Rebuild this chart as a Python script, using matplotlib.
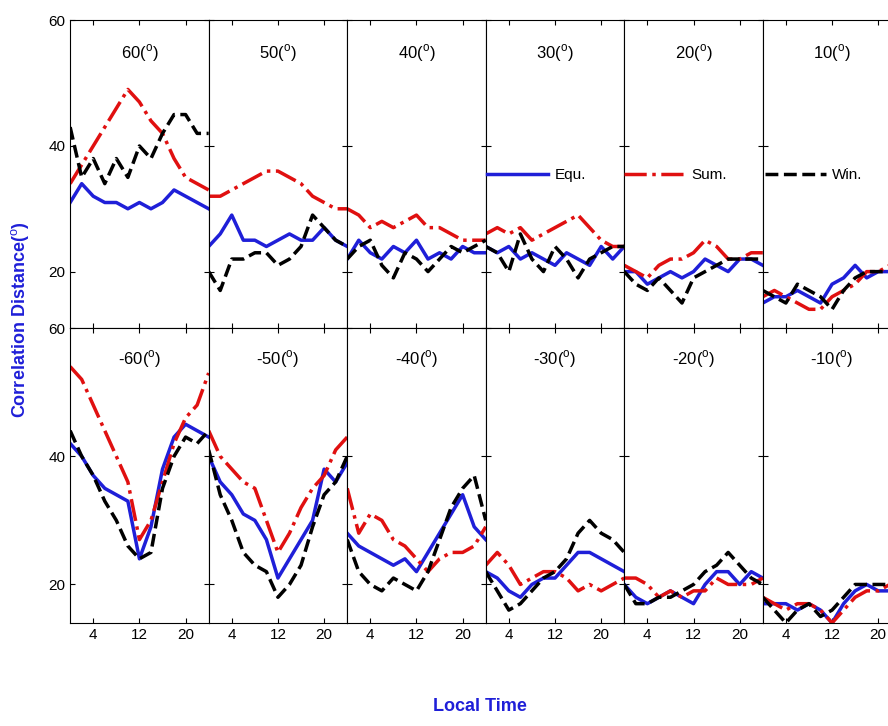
import numpy as np
import matplotlib.pyplot as plt

plt.rcParams['font.family'] = ['Liberation Sans', 'DejaVu Sans']
plt.rcParams['mathtext.fontset'] = 'custom'
plt.rcParams['mathtext.rm'] = 'Liberation Sans'

hours = [0, 2, 4, 6, 8, 10, 12, 14, 16, 18, 20, 22, 24]
titles_top = ['60', '50', '40', '30', '20', '10']
titles_bot = ['-60', '-50', '-40', '-30', '-20', '-10']

# equinox / summer / winter per latitude
equ_top = [
    [31, 34, 32, 31, 31, 30, 31, 30, 31, 33, 32, 31, 30],
    [24, 26, 29, 25, 25, 24, 25, 26, 25, 25, 27, 25, 24],
    [22, 25, 23, 22, 24, 23, 25, 22, 23, 22, 24, 23, 23],
    [24, 23, 24, 22, 23, 22, 21, 23, 22, 21, 24, 22, 24],
    [20, 20, 18, 19, 20, 19, 20, 22, 21, 20, 22, 22, 21],
    [15, 16, 16, 17, 16, 15, 18, 19, 21, 19, 20, 20, 21],
]
sum_top = [
    [34, 37, 40, 43, 46, 49, 47, 44, 42, 38, 35, 34, 33],
    [32, 32, 33, 34, 35, 36, 36, 35, 34, 32, 31, 30, 30],
    [30, 29, 27, 28, 27, 28, 29, 27, 27, 26, 25, 25, 25],
    [26, 27, 26, 27, 25, 26, 27, 28, 29, 27, 25, 24, 24],
    [21, 20, 19, 21, 22, 22, 23, 25, 24, 22, 22, 23, 23],
    [16, 17, 16, 15, 14, 14, 16, 17, 18, 20, 20, 21, 21],
]
win_top = [
    [43, 35, 38, 34, 38, 35, 40, 38, 42, 45, 45, 42, 42],
    [20, 17, 22, 22, 23, 23, 21, 22, 24, 29, 27, 25, 24],
    [22, 24, 25, 21, 19, 23, 22, 20, 22, 24, 23, 24, 25],
    [24, 23, 20, 26, 22, 20, 24, 22, 19, 22, 23, 24, 24],
    [20, 18, 17, 19, 17, 15, 19, 20, 21, 22, 22, 22, 22],
    [17, 16, 15, 18, 17, 16, 14, 17, 19, 20, 20, 20, 21],
]
equ_bot = [
    [42, 40, 37, 35, 34, 33, 24, 29, 38, 43, 45, 44, 43],
    [40, 36, 34, 31, 30, 27, 21, 24, 27, 30, 38, 36, 39],
    [28, 26, 25, 24, 23, 24, 22, 25, 28, 31, 34, 29, 27],
    [22, 21, 19, 18, 20, 21, 21, 23, 25, 25, 24, 23, 22],
    [20, 18, 17, 18, 19, 18, 17, 20, 22, 22, 20, 22, 21],
    [17, 17, 17, 16, 17, 16, 14, 17, 19, 20, 19, 19, 19],
]
sum_bot = [
    [54, 52, 48, 44, 40, 36, 27, 30, 36, 42, 46, 48, 53],
    [44, 40, 38, 36, 35, 30, 25, 28, 32, 35, 37, 41, 43],
    [35, 28, 31, 30, 27, 26, 24, 22, 24, 25, 25, 26, 29],
    [23, 25, 23, 20, 21, 22, 22, 21, 19, 20, 19, 20, 21],
    [21, 21, 20, 18, 19, 18, 19, 19, 21, 20, 20, 20, 21],
    [18, 17, 16, 17, 17, 16, 14, 16, 18, 19, 19, 20, 20],
]
win_bot = [
    [44, 40, 37, 33, 30, 26, 24, 25, 35, 40, 43, 42, 44],
    [41, 34, 30, 25, 23, 22, 18, 20, 23, 29, 34, 36, 40],
    [27, 22, 20, 19, 21, 20, 19, 22, 27, 32, 35, 37, 30],
    [22, 19, 16, 17, 19, 21, 22, 24, 28, 30, 28, 27, 25],
    [20, 17, 17, 18, 18, 19, 20, 22, 23, 25, 23, 21, 20],
    [18, 16, 14, 16, 17, 15, 16, 18, 20, 20, 20, 20, 20],
]

fig = plt.figure(figsize=(8.88, 7.26), dpi=100)
left, width = 0.079, 0.156
rows = [(0.548, 0.424, titles_top, equ_top, sum_top, win_top, (11, 60)),
        (0.142, 0.406, titles_bot, equ_bot, sum_bot, win_bot, (14, 60))]
for r, (bottom, height, titles, equ, sm, win, ylim) in enumerate(rows):
    for i in range(6):
        ax = fig.add_axes([left + i * width, bottom, width, height])
        l1, = ax.plot(hours, equ[i], color='#1f1fd8', lw=2.5, label='Equ.')
        l2, = ax.plot(hours, sm[i], color='#e01010', lw=2.5, ls='-.', label='Sum.')
        l3, = ax.plot(hours, win[i], color='black', lw=2.5, ls='--', label='Win.')
        ax.set_xlim(0, 24)
        ax.set_ylim(*ylim)
        ax.set_xticks([4, 12, 20])
        ax.set_yticks([20, 40, 60])
        ax.tick_params(direction='in', top=True, right=True, labelsize=11)
        if r == 0:
            ax.set_xticklabels([])
        if i > 0:
            ax.set_yticklabels([])
        else:
            ax.set_yticklabels(['20', '40', '60'])
        ax.text(0.5, 0.93, titles[i] + r'($^{\mathrm{o}}$)', transform=ax.transAxes,
                ha='center', va='top', fontsize=12)

fig.legend([l1, l2, l3], ['Equ.', 'Sum.', 'Win.'], loc='center',
           bbox_to_anchor=(0.76, 0.759), ncol=3, frameon=False, fontsize=11,
           handlelength=4, handletextpad=0.4, columnspacing=2.5)
fig.text(0.022, 0.56, r'Correlation Distance($^{\mathrm{o}}$)', rotation=90, color='#1f1fd8',
         fontsize=13, fontweight='bold', ha='center', va='center')
fig.text(0.54, 0.015, 'Local Time', color='#1f1fd8', fontsize=13,
         fontweight='bold', ha='center', va='bottom')
fig.savefig('out.png', dpi=100)
